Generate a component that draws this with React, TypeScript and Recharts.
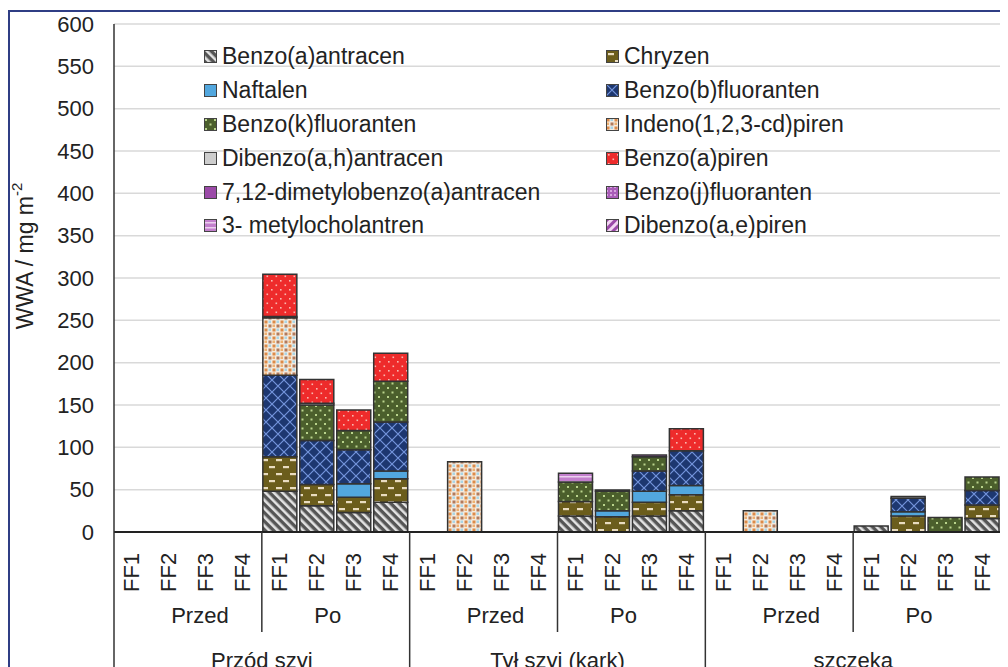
import { BarChart, Bar, XAxis, YAxis, CartesianGrid, Legend } from 'recharts'

const groups = ['Przód szyi', 'Tył szyi (kark)', 'szczeka']
const phases = ['Przed', 'Po']
const samples = ['FF1', 'FF2', 'FF3', 'FF4']
const yTicks = [0, 50, 100, 150, 200, 250, 300, 350, 400, 450, 500, 550, 600]

// values per category: Przód szyi (Przed FF1-4, Po FF1-4), Tył szyi (...), szczeka (...)
const benzoAAntracen = [0, 0, 0, 0, 48, 31, 23, 35, 0, 0, 0, 0, 19, 0, 19, 25, 0, 0, 0, 0, 7, 0, 0, 16]
const chryzen = [0, 0, 0, 0, 41, 25, 18, 28, 0, 0, 0, 0, 17, 18, 16, 19, 0, 0, 0, 0, 0, 19, 0, 16]
const naftalen = [0, 0, 0, 0, 0, 0, 16, 9, 0, 0, 0, 0, 0, 7, 13, 11, 0, 0, 0, 0, 0, 5, 0, 0]
const benzoBFluoranten = [0, 0, 0, 0, 96, 52, 40, 58, 0, 0, 0, 0, 0, 0, 24, 41, 0, 0, 0, 0, 0, 16, 0, 17]
const benzoKFluoranten = [0, 0, 0, 0, 0, 42, 23, 48, 0, 0, 0, 0, 23, 23, 17, 0, 0, 0, 0, 0, 0, 0, 17, 16]
const indeno = [0, 0, 0, 0, 68, 0, 0, 0, 0, 83, 0, 0, 0, 0, 0, 0, 0, 25, 0, 0, 0, 0, 0, 0]
const dibenzoAH = [0, 0, 0, 0, 1.5, 2, 0, 0, 0, 0, 0, 0, 0, 1.5, 0, 0, 0, 0, 0, 0, 0, 2, 0, 0]
const benzoAPiren = [0, 0, 0, 0, 50, 28, 24, 33, 0, 0, 0, 0, 0, 0, 0, 26, 0, 0, 0, 0, 0, 0, 0, 0]
const dimetylo = [0, 0, 0, 0, 0, 0, 0, 0, 0, 0, 0, 0, 0, 0, 0, 0, 0, 0, 0, 0, 0, 0, 0, 0]
const benzoJFluoranten = [0, 0, 0, 0, 0, 0, 0, 0, 0, 0, 0, 0, 0, 0, 2, 0, 0, 0, 0, 0, 0, 0, 0, 0]
const metylocholantren = [0, 0, 0, 0, 0, 0, 0, 0, 0, 0, 0, 0, 10.5, 0, 0, 0, 0, 0, 0, 0, 0, 0, 0, 0]
const dibenzoAEPiren = [0, 0, 0, 0, 0, 0, 0, 0, 0, 0, 0, 0, 0, 0, 0, 0, 0, 0, 0, 0, 0, 0, 0, 0]

const seriesList = [
  { key: 'baa', name: 'Benzo(a)antracen', values: benzoAAntracen, fill: 'url(#pBaA)' },
  { key: 'chr', name: 'Chryzen', values: chryzen, fill: 'url(#pChr)' },
  { key: 'naf', name: 'Naftalen', values: naftalen, fill: '#52a7de' },
  { key: 'bbf', name: 'Benzo(b)fluoranten', values: benzoBFluoranten, fill: 'url(#pBbF)' },
  { key: 'bkf', name: 'Benzo(k)fluoranten', values: benzoKFluoranten, fill: 'url(#pBkF)' },
  { key: 'ind', name: 'Indeno(1,2,3-cd)piren', values: indeno, fill: 'url(#pInd)' },
  { key: 'dah', name: 'Dibenzo(a,h)antracen', values: dibenzoAH, fill: '#cdcdcd' },
  { key: 'bap', name: 'Benzo(a)piren', values: benzoAPiren, fill: 'url(#pBaP)' },
  { key: 'dmb', name: '7,12-dimetylobenzo(a)antracen', values: dimetylo, fill: '#9b4aa8' },
  { key: 'bjf', name: 'Benzo(j)fluoranten', values: benzoJFluoranten, fill: 'url(#pBjF)' },
  { key: 'mch', name: '3- metylocholantren', values: metylocholantren, fill: 'url(#pMch)' },
  { key: 'dae', name: 'Dibenzo(a,e)piren', values: dibenzoAEPiren, fill: 'url(#pDae)' },
]

const data = groups.flatMap((g, gi) =>
  phases.flatMap((p, pi) =>
    samples.map((s, si) => {
      const i = gi * 8 + pi * 4 + si
      const row: any = { id: `${gi}-${pi}-${si}`, group: g, phase: p, sample: s }
      seriesList.forEach((sr) => {
        row[sr.key] = sr.values[i]
      })
      return row
    })
  )
)

const FONT = '"Liberation Sans", Arial, sans-serif'
const INK = '#222'

function CategoryTick(props: any) {
  const { x, y, payload, index } = props
  const row = data[index]
  if (!row) return null
  const half = payload.offset || 18.5
  const si = index % 4
  const pi = Math.floor(index / 4) % 2
  return (
    <g>
      <text
        x={x + 7}
        y={y + 60}
        transform={`rotate(-90 ${x + 7} ${y + 60})`}
        fontSize={22}
        fontFamily={FONT}
        fill={INK}
      >
        {row.sample}
      </text>
      {si === 0 && (
        <line x1={x - half} x2={x - half} y1={y} y2={y + (pi === 0 ? 200 : 100)} stroke="#333" strokeWidth={1.5} />
      )}
      {index === data.length - 1 && (
        <line x1={x + half} x2={x + half} y1={y} y2={y + 200} stroke="#333" strokeWidth={1.5} />
      )}
      {si === 1 && (
        <text x={x + half + (pi === 0 ? 12 : -8)} y={y + 91} textAnchor="middle" fontSize={22} fontFamily={FONT} fill={INK}>
          {row.phase}
        </text>
      )}
      {pi === 1 && si === 0 && (
        <text x={x - half} y={y + 136} textAnchor="middle" fontSize={22} fontFamily={FONT} fill={INK}>
          {row.group}
        </text>
      )}
    </g>
  )
}

function YLabel(props: any) {
  const { viewBox } = props
  const cx = viewBox.x + 17
  const cy = viewBox.y + viewBox.height / 2 - 22
  return (
    <text
      x={cx}
      y={cy}
      transform={`rotate(-90 ${cx} ${cy})`}
      textAnchor="middle"
      dominantBaseline="central"
      fontSize={23}
      fontFamily={FONT}
      fill={INK}
    >
      WWA / mg m<tspan dy={-9} fontSize={15}>-2</tspan>
    </text>
  )
}

function LegendBox() {
  return (
    <div
      style={{
        display: 'grid',
        gridTemplateColumns: '402px 330px',
        fontFamily: FONT,
        fontSize: 23,
        color: INK,
      }}
    >
      {seriesList.map((s) => (
        <div key={s.key} style={{ display: 'flex', alignItems: 'center', height: 33.8, whiteSpace: 'nowrap' }}>
          <svg width={13} height={13} style={{ marginRight: 5, flex: 'none' }}>
            <rect x={0.5} y={0.5} width={12} height={12} fill={s.fill} stroke="#444" strokeWidth={1} />
          </svg>
          {s.name}
        </div>
      ))}
    </div>
  )
}

export default function App() {
  return (
    <div style={{ position: 'relative', width: 1000, height: 659, overflow: 'hidden', background: '#fff' }}>
      <div
        style={{
          position: 'absolute',
          left: 0,
          top: 2,
          width: 1100,
          height: 800,
          border: '2px solid #2f3d84',
          boxSizing: 'border-box',
        }}
      />
      <div style={{ position: 'absolute', left: 0, top: 0 }}>
        <BarChart
          width={1000}
          height={680}
          data={data}
          margin={{ top: 16, right: 7, bottom: 0, left: 0 }}
          barSize={34}
        >
          <defs>
            <pattern id="pBaA" width="6" height="6" patternUnits="userSpaceOnUse" patternTransform="rotate(-45)">
              <rect width="6" height="6" fill="#555" />
              <rect width="2.6" height="6" fill="#e2e2e2" />
            </pattern>
            <pattern id="pChr" width="14" height="14" patternUnits="userSpaceOnUse">
              <rect width="14" height="14" fill="#6b5d1c" />
              <rect x="2" y="3" width="6" height="2.2" fill="#e9dcc0" />
              <rect x="9" y="10" width="6" height="2.2" fill="#e9dcc0" />
              <rect x="-5" y="10" width="6" height="2.2" fill="#e9dcc0" />
            </pattern>
            <pattern id="pBbF" width="12" height="12" patternUnits="userSpaceOnUse">
              <rect width="12" height="12" fill="#1d3770" />
              <path d="M0,0 L12,12 M12,0 L0,12" stroke="#7394dc" strokeWidth="1.2" />
            </pattern>
            <pattern id="pBkF" width="9" height="9" patternUnits="userSpaceOnUse">
              <rect width="9" height="9" fill="#4b5f2c" />
              <rect x="1" y="1" width="2" height="2" fill="#b9d38c" />
              <rect x="5.5" y="5.5" width="2" height="2" fill="#b9d38c" />
            </pattern>
            <pattern id="pInd" width="8" height="8" patternUnits="userSpaceOnUse">
              <rect width="8" height="8" fill="#f4ebdf" />
              <rect x="0.5" y="0.5" width="3" height="3" fill="#dc8a48" />
              <rect x="4.5" y="4.5" width="3" height="3" fill="#b27a5c" />
              <rect x="4.5" y="0.5" width="2.5" height="2.5" fill="#a9d5e6" />
              <rect x="0.5" y="4.5" width="2.5" height="2.5" fill="#eeb070" />
            </pattern>
            <pattern id="pBaP" width="9" height="9" patternUnits="userSpaceOnUse">
              <rect width="9" height="9" fill="#ee2b2b" />
              <rect x="2" y="2" width="1.6" height="1.6" fill="#f9b8b0" />
              <rect x="6.5" y="6.5" width="1.6" height="1.6" fill="#f9b8b0" />
            </pattern>
            <pattern id="pBjF" width="4" height="4" patternUnits="userSpaceOnUse">
              <rect width="4" height="4" fill="#a95cb8" />
              <rect width="2" height="2" fill="#d7a6df" />
            </pattern>
            <pattern id="pMch" width="4" height="5" patternUnits="userSpaceOnUse">
              <rect width="4" height="5" fill="#c27fcc" />
              <rect y="3" width="4" height="1.5" fill="#ecd0ef" />
            </pattern>
            <pattern id="pDae" width="6" height="6" patternUnits="userSpaceOnUse" patternTransform="rotate(45)">
              <rect width="6" height="6" fill="#f2d6f2" />
              <rect width="3" height="6" fill="#9b4aa8" />
            </pattern>
          </defs>
          <CartesianGrid vertical={false} stroke="#d9d9d9" strokeWidth={1.5} />
          <XAxis
            dataKey="id"
            interval={0}
            height={156}
            tickSize={0}
            tickMargin={0}
            tickLine={false}
            axisLine={{ stroke: '#222', strokeWidth: 2 }}
            tick={<CategoryTick />}
          />
          <XAxis xAxisId="top" orientation="top" dataKey="id" height={0} tick={false} tickLine={false} axisLine={{ stroke: '#777', strokeWidth: 2 }} />
          <YAxis
            domain={[0, 600]}
            ticks={yTicks}
            interval={0}
            width={106}
            tickSize={0}
            tickMargin={20}
            tickLine={false}
            axisLine={{ stroke: '#333', strokeWidth: 1.5 }}
            tick={{ fontSize: 22, fill: INK, fontFamily: FONT }}
            label={{ content: <YLabel /> }}
          />
          <YAxis yAxisId="right" orientation="right" domain={[0, 600]} width={0} tick={false} tickLine={false} axisLine={{ stroke: '#777', strokeWidth: 2.5 }} />
          <Legend
            layout="vertical"
            align="center"
            verticalAlign="middle"
            content={<LegendBox />}
            wrapperStyle={{ position: 'absolute', left: 196, top: 32, width: 760 }}
          />
          {seriesList.map((s) => (
            <Bar
              key={s.key}
              dataKey={s.key}
              name={s.name}
              stackId="a"
              fill={s.fill}
              stroke="#333"
              strokeWidth={1.5}
              isAnimationActive={false}
            />
          ))}
        </BarChart>
      </div>
    </div>
  )
}
